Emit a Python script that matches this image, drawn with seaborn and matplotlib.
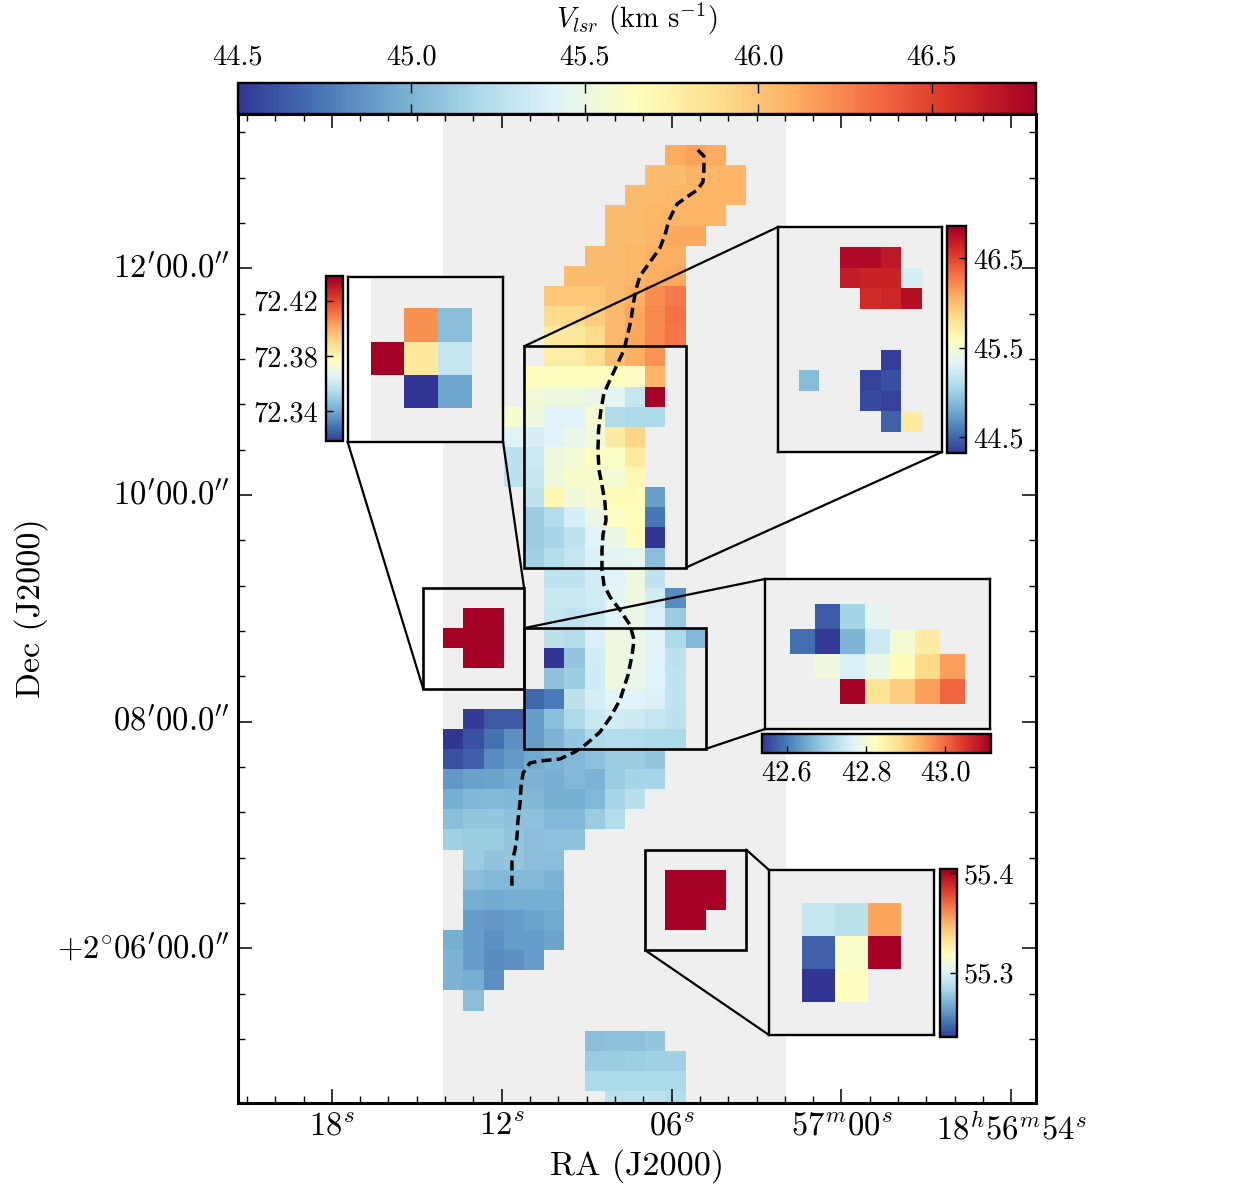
import numpy as np
import matplotlib
matplotlib.use("Agg")
import matplotlib.pyplot as plt
from matplotlib.patches import ConnectionPatch, Rectangle
import seaborn as sns

plt.rcParams["font.family"] = ["cmr10", "DejaVu Serif"]
plt.rcParams["mathtext.fontset"] = "cm"
plt.rcParams["axes.unicode_minus"] = False
plt.rcParams["axes.formatter.use_mathtext"] = True

_ = np.nan
CMAP = "RdYlBu_r"
GRAY = "#efefef"

# Centroid velocity (km/s) per map cell, rows run north to south, columns east to west.
VELOCITY_MAP = [
    [_, _, _, _, _, _, _, _, _, _, _, 46.11, 46.15, 46.11, _, _, _],
    [_, _, _, _, _, _, _, _, _, _, 46.04, 46.04, 46.09, 46.08, 46.08, _, _],
    [_, _, _, _, _, _, _, _, _, 46.05, 46.05, 46.07, 46.08, 46.08, 46.08, _, _],
    [_, _, _, _, _, _, _, _, 46.05, 46.05, 46.07, 46.08, 46.08, 46.08, _, _, _],
    [_, _, _, _, _, _, _, _, 46.05, 46.05, 46.08, 46.12, 46.12, _, _, _, _],
    [_, _, _, _, _, _, _, 46.05, 46.05, 46.07, 46.10, 46.10, _, _, _, _, _],
    [_, _, _, _, _, _, 46.05, 46.05, 46.05, 46.07, 46.10, 46.12, _, _, _, _, _],
    [_, _, _, _, _, 46.00, 46.00, 46.00, 46.05, 46.10, 46.23, 46.29, _, _, _, _, _],
    [_, _, _, _, _, 45.90, 45.90, 45.97, 46.06, 46.13, 46.24, 46.32, _, _, _, _, _],
    [_, _, _, _, _, 45.81, 45.81, 45.90, 46.06, 46.13, 46.24, 46.30, _, _, _, _, _],
    [_, _, _, _, _, 45.78, 45.78, 45.88, 46.03, 46.10, 46.20, _, _, _, _, _, _],
    [_, _, _, _, 45.65, 45.65, 45.65, 45.65, 45.66, 45.63, 46.08, _, _, _, _, _, _],
    [_, _, _, _, 45.56, 45.52, 45.52, 45.50, 45.45, 45.30, 46.80, _, _, _, _, _, _],
    [_, _, _, 45.58, 45.52, 45.42, 45.42, 45.58, 45.21, 45.20, 45.20, _, _, _, _, _, _],
    [_, _, _, 45.42, 45.38, 45.42, 45.48, 45.55, 45.80, 45.92, _, _, _, _, _, _, _],
    [_, _, _, 45.27, 45.33, 45.52, 45.56, 45.65, 45.62, 45.80, _, _, _, _, _, _, _],
    [_, _, _, 45.27, 45.30, 45.53, 45.60, 45.60, 45.57, 45.70, _, _, _, _, _, _, _],
    [_, _, _, _, 45.28, 45.72, 45.54, 45.58, 45.68, 45.68, 44.91, _, _, _, _, _, _],
    [_, _, _, _, 45.12, 45.22, 45.38, 45.50, 45.63, 45.65, 44.74, _, _, _, _, _, _],
    [_, _, _, _, 45.12, 45.18, 45.28, 45.42, 45.50, 45.66, 44.50, _, _, _, _, _, _],
    [_, _, _, _, 45.15, 45.22, 45.30, 45.40, 45.45, 45.47, 45.05, _, _, _, _, _, _],
    [_, _, _, _, _, 45.28, 45.28, 45.36, 45.42, 45.52, 45.28, _, _, _, _, _, _],
    [_, _, _, _, _, 45.32, 45.32, 45.36, 45.44, 45.52, 45.36, 44.83, _, _, _, _, _],
    [_, 72.407, 72.347, _, _, 45.30, 45.28, 45.33, 45.43, 45.50, 45.40, 45.12, _, _, _, _, _],
    [72.4375, 72.3865, 72.36, _, _, 45.27, 45.23, 45.40, 45.52, 45.50, 45.42, 45.20, 45.03, _, _, _, _],
    [_, 72.3185, 72.341, _, _, 44.50, 45.10, 45.36, 45.52, 45.50, 45.42, 45.27, _, _, _, _, _],
    [_, _, _, _, _, 45.07, 45.12, 45.35, 45.52, 45.48, 45.42, 45.28, _, _, _, _, _],
    [_, _, _, _, 44.68, 44.76, 45.27, 45.38, 45.44, 45.42, 45.40, 45.28, _, _, _, _, _],
    [_, 44.52, 44.63, 44.63, 44.90, 45.05, 45.20, 45.32, 45.36, 45.34, 45.30, 45.27, _, _, _, _, _],
    [44.50, 44.60, 44.72, 44.85, 44.90, 45.00, 45.10, 45.20, 45.23, 45.22, 45.20, 45.20, _, _, _, _, _],
    [44.60, 44.66, 44.83, 44.88, 44.95, 45.00, 45.03, 45.07, 45.12, 45.12, 45.10, _, _, _, _, _, _],
    [44.87, 44.92, 44.93, 44.95, 45.00, 44.98, 45.03, 45.00, 45.12, 45.17, 45.18, _, _, _, _, _, _],
    [44.97, 45.02, 45.03, 45.02, 45.02, 44.98, 44.98, 45.03, 45.18, 45.25, _, _, _, _, _, _, _],
    [45.05, 45.10, 45.10, 45.07, 45.07, 45.03, 45.03, 45.12, 45.22, _, _, _, _, _, _, _, _],
    [45.15, 45.12, 45.12, 45.10, 45.05, 45.07, 45.07, _, _, _, _, _, _, _, _, _, _],
    [_, 45.12, 45.08, 45.10, 45.05, 45.05, _, _, _, _, _, _, _, _, _, _, _],
    [_, 45.05, 45.03, 45.03, 45.03, 45.00, _, _, _, _, _, 55.2945, 55.291, 55.356, _, _, _],
    [_, 44.97, 44.95, 44.97, 44.97, 44.97, _, _, _, _, _, 55.247, 55.317, 55.405, _, _, _],
    [_, 44.90, 44.87, 44.90, 44.93, 44.95, _, _, _, _, _, 55.235, 55.32, _, _, _, _],
    [44.97, 44.90, 44.85, 44.90, 44.90, 44.93, _, _, _, _, _, _, _, _, _, _, _],
    [45.00, 44.90, 44.83, 44.85, 44.90, _, _, _, _, _, _, _, _, _, _, _, _],
    [45.00, 44.97, 44.85, _, _, _, _, _, _, _, _, _, _, _, _, _, _],
    [_, 45.05, _, _, _, _, _, _, _, _, _, _, _, _, _, _, _],
    [_, _, _, _, _, _, _, _, _, _, _, _, _, _, _, _, _],
    [_, _, _, _, _, _, _, 45.05, 45.07, 45.07, 45.10, _, _, _, _, _, _],
    [_, _, _, _, _, _, _, 45.12, 45.12, 45.13, 45.15, 45.15, _, _, _, _, _],
    [_, _, _, _, _, _, _, 45.20, 45.20, 45.20, 45.20, 45.20, _, _, _, _, _],
    [_, _, _, _, _, _, _, _, 45.25, 45.27, 45.27, 45.22, _, _, _, _, _],
]

# Second velocity component inside the central field.
NORTH_COMPONENT = [
    [_, _, _, _, _, _, _, _],
    [_, _, _, 46.81, 46.81, 46.73, _, _],
    [_, _, _, 46.71, 46.68, 46.68, 45.30, _],
    [_, _, _, _, 46.63, 46.66, 46.78, _],
    [_, _, _, _, _, _, _, _],
    [_, _, _, _, _, _, _, _],
    [_, _, _, _, _, 44.35, _, _],
    [_, 44.92, _, _, 44.37, 44.42, _, _],
    [_, _, _, _, 44.40, 44.37, _, _],
    [_, _, _, _, _, 44.50, 45.74, _],
    [_, _, _, _, _, _, _, _],
]
SOUTH_COMPONENT = [
    [_, _, _, _, _, _, _, _, _],
    [_, _, 42.573, 42.705, 42.775, _, _, _, _],
    [_, 42.590, 42.544, 42.665, 42.746, 42.803, 42.861, _, _],
    [_, _, 42.798, 42.763, 42.786, 42.832, 42.890, 42.953, _],
    [_, _, _, 43.115, 42.878, 42.907, 42.953, 43.005, _],
    [_, _, _, _, _, _, _, _, _],
]
WEST_CLUMP = [
    [_, 72.407, 72.347],
    [72.4375, 72.3865, 72.36],
    [_, 72.3185, 72.341],
]
EAST_CLUMP = [
    [_, _, _, _, _],
    [_, 55.2945, 55.291, 55.356, _],
    [_, 55.247, 55.317, 55.405, _],
    [_, 55.235, 55.32, _, _],
    [_, _, _, _, _],
]

# Filament spine in map cell coordinates.
SPINE_COL = [12.61, 12.91, 12.91, 12.86, 12.57, 12.07, 11.58, 11.43, 11.18, 10.98, 10.73, 10.24,
             9.74, 9.54, 9.40, 9.30, 9.15, 8.95, 8.60, 8.26, 7.96, 7.81, 7.69, 7.66, 7.71, 7.86,
             8.01, 8.06, 7.91, 7.86, 7.86, 7.96, 8.26, 8.75, 9.25, 9.45, 9.35, 9.15, 8.75, 8.26,
             7.76, 7.02, 6.52, 5.78, 4.79, 4.29, 3.95, 3.85, 3.80, 3.70, 3.65, 3.55, 3.40, 3.40]
SPINE_ROW = [0.25, 0.55, 1.24, 1.84, 2.24, 2.58, 2.93, 3.23, 3.73, 4.47, 5.12, 5.81,
             6.51, 7.20, 7.95, 8.69, 9.34, 10.18, 10.93, 11.67, 12.32, 13.16, 14.16, 15.15, 16.14, 16.89,
             17.78, 18.63, 19.37, 20.12, 21.11, 21.86, 22.45, 23.10, 23.84, 24.59, 25.34, 26.33, 27.57, 28.46,
             29.16, 29.81, 30.15, 30.50, 30.60, 30.70, 31.20, 31.89, 32.69, 33.53, 34.38, 35.02, 35.62, 36.86]

RA_SECONDS = [18, 12, 6, 0, -6]
RA_LABELS = [r"$18^{s}$", r"$12^{s}$", r"$06^{s}$", r"$57^{m}00^{s}$", r"$18^{h}56^{m}54^{s}$"]
DEC_ARCMIN = [12, 10, 8, 6]
DEC_LABELS = [r"$12^{\prime}00.0^{\prime\prime}$", r"$10^{\prime}00.0^{\prime\prime}$",
              r"$08^{\prime}00.0^{\prime\prime}$", r"$+2^{\circ}06^{\prime}00.0^{\prime\prime}$"]

W, H = 1234, 1200
fig = plt.figure(figsize=(W / 100, H / 100), dpi=100)


def px_axes(x0, y0, x1, y1, **kw):
    return fig.add_axes([x0 / W, 1 - y1 / H, (x1 - x0) / W, (y1 - y0) / H], **kw)


def ra_to_col(sec):
    return -5.52 + (18 - np.asarray(sec, dtype=float)) * 1.4025


def dec_to_row(arcmin):
    return 6.125 + (12 - np.asarray(arcmin, dtype=float)) * 5.63


def add_colorbar(mesh, box, orientation, ticks, labels, side, size=20.5):
    cax = px_axes(*box)
    cb = fig.colorbar(mesh, cax=cax, orientation=orientation)
    cb.solids.set_edgecolor("face")
    cb.outline.set_linewidth(1.7)
    cb.minorticks_off()
    cb.set_ticks(ticks, labels=labels)
    axis = cax.xaxis if orientation == "horizontal" else cax.yaxis
    axis.set_ticks_position(side)
    axis.set_label_position(side)
    cax.tick_params(which="major", direction="in", length=5, width=1, labelsize=size, pad=5)
    return cb


def add_inset(box, grid, vmin, vmax, xlim, ylim, face=GRAY):
    ins = px_axes(*box, facecolor=face)
    sns.heatmap(np.array(grid, dtype=float), ax=ins, cmap=CMAP, vmin=vmin, vmax=vmax,
                cbar=False, xticklabels=False, yticklabels=False)
    ins.set_xlim(*xlim)
    ins.set_ylim(*ylim)
    ins.tick_params(left=False, bottom=False)
    for spine in ins.spines.values():
        spine.set_visible(True)
        spine.set_linewidth(1.7)
    return ins


def link(ax, point, ins, corner):
    fig.add_artist(ConnectionPatch(xyA=point, coordsA=ax.transData, xyB=corner, coordsB=ins.transAxes,
                                   color="black", lw=1.6))


# Main velocity map
ax = px_axes(238, 114, 1036, 1103)
ax.axvspan(0, 17, color=GRAY, lw=0, zorder=0)
sns.heatmap(np.array(VELOCITY_MAP, dtype=float), ax=ax, cmap=CMAP, vmin=44.5, vmax=46.8,
            cbar=False, xticklabels=False, yticklabels=False)
main_mesh = ax.collections[0]
for spine in ax.spines.values():
    spine.set_visible(True)
    spine.set_linewidth(2.2)

ax.plot(SPINE_COL, SPINE_ROW, color="black", lw=2.5, ls=(0, (2.9, 1.5)), zorder=5)

ax.set_xticks(ra_to_col(RA_SECONDS), labels=RA_LABELS)
ax.set_xticks(ra_to_col(np.arange(-6, 22)), minor=True)
ax.set_yticks(dec_to_row(DEC_ARCMIN), labels=DEC_LABELS)
ax.set_yticks(dec_to_row(np.arange(5.2, 13.7, 0.4)), minor=True)
ax.set_xlim(-10.17, 29.36)
ax.set_ylim(47.59, -1.54)
ax.tick_params(axis="both", which="major", direction="in", length=10, width=1.1,
               top=True, right=True, bottom=True, left=True, labelsize=23.5, pad=6)
ax.tick_params(axis="both", which="minor", direction="in", length=5, width=1,
               top=True, right=True, bottom=True, left=True)
ax.tick_params(axis="x", labelrotation=0, pad=6)
ax.tick_params(axis="y", labelrotation=0)
ax.set_xlabel("RA (J2000)", fontsize=24.5)
ax.set_ylabel("Dec (J2000)", fontsize=24.5)
ax.xaxis.set_label_coords(0.5, -0.047)
ax.yaxis.set_label_coords(-0.238, 0.5)
for tick_label in ax.get_yticklabels():
    tick_label.set_verticalalignment("center")

# Main colour scale along the top edge
cb_main = add_colorbar(main_mesh, (238, 83, 1036, 114), "horizontal",
                       [44.5, 45.0, 45.5, 46.0, 46.5], ["44.5", "45.0", "45.5", "46.0", "46.5"], "top")
cb_main.ax.tick_params(axis="x", which="major", top=True, bottom=True, length=7, pad=9)
cb_main.ax.xaxis.set_label_position("top")
cb_main.set_label(r"$V_{lsr}$ (km s$^{-1}$)", fontsize=20.5, labelpad=12)

# Zoom regions
for x0, x1, r0, r1 in [(4, 12, 10, 21), (4, 13, 24, 30), (-1, 4, 22, 27), (10, 15, 35, 40)]:
    ax.add_patch(Rectangle((x0, r0), x1 - x0, r1 - r0, fill=False, ec="black", lw=1.9, zorder=6))

ins_n = add_inset((778, 227, 942, 452), NORTH_COMPONENT, 44.32, 46.86, (0, 8), (11, 0))
add_colorbar(ins_n.collections[0], (947, 226, 966, 453), "vertical", [44.5, 45.5, 46.5],
             ["44.5", "45.5", "46.5"], "right")
link(ax, (4, 10), ins_n, (0, 1))
link(ax, (12, 21), ins_n, (1, 0))

ins_s = add_inset((765, 579, 990, 729), SOUTH_COMPONENT, 42.538, 43.115, (0, 9), (6, 0))
add_colorbar(ins_s.collections[0], (762.5, 734, 991, 753), "horizontal", [42.6, 42.8, 43.0],
             ["42.6", "42.8", "43.0"], "bottom")
link(ax, (4, 24), ins_s, (0, 1))
link(ax, (13, 30), ins_s, (0, 0))

ins_w = add_inset((347.5, 276.5, 503, 441.5), WEST_CLUMP, 72.3185, 72.4375, (-0.69, 3.93), (3.99, -0.95), face="white")
ins_w.axvspan(0, 3.93, color=GRAY, lw=0, zorder=0)
add_colorbar(ins_w.collections[0], (325.5, 276.5, 342.5, 441), "vertical", [72.34, 72.38, 72.42],
             ["72.34", "72.38", "72.42"], "left")
link(ax, (-1, 27), ins_w, (0, 0))
link(ax, (4, 22), ins_w, (1, 0))

ins_e = add_inset((769, 870, 934, 1035), EAST_CLUMP, 55.235, 55.405, (0, 5), (5, 0))
add_colorbar(ins_e.collections[0], (940, 868.5, 957, 1037), "vertical", [55.3, 55.4],
             ["55.3", "55.4"], "right")
link(ax, (15, 35), ins_e, (0, 1))
link(ax, (10, 40), ins_e, (0, 0))

fig.savefig("out.png", dpi=100)
